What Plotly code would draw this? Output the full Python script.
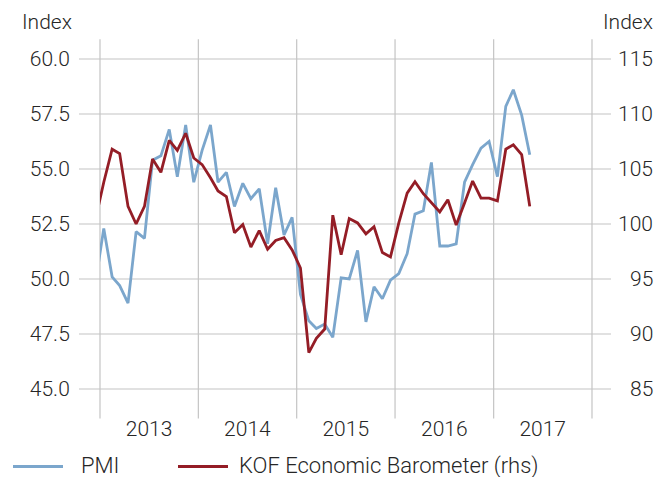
import pandas as pd
import plotly.graph_objects as go

# ---- data (monthly, Dec 2012 - May 2017; Dec 2012 is only visible as the clipped edge) ----
months = pd.date_range("2012-12-01", "2017-05-01", freq="MS") + pd.Timedelta(days=14)

pmi = [49.8,
       52.3, 50.1, 49.7, 48.9, 52.15, 51.85, 55.4, 55.6, 56.8, 54.65, 57.0, 54.4,
       55.85, 57.0, 54.4, 54.85, 53.3, 54.35, 53.65, 54.1, 51.6, 54.15, 52.0, 52.8,
       49.3, 48.1, 47.75, 47.95, 47.35, 50.05, 50.0, 51.3, 48.05, 49.65, 49.1, 49.95,
       50.25, 51.15, 52.95, 53.1, 55.3, 51.5, 51.5, 51.6, 54.4, 55.2, 55.95, 56.25,
       54.65, 57.85, 58.6, 57.45, 55.65]

kof = [100.4,
       103.8, 106.8, 106.4, 101.6, 100.0, 101.6, 105.9, 104.7, 107.6, 106.7, 108.25, 106.0,
       105.4, 104.2, 103.0, 102.5, 99.2, 99.95, 97.9, 99.4, 97.7, 98.5, 98.75, 97.65,
       96.0, 88.3, 89.6, 90.45, 100.8, 97.2, 100.5, 100.1, 99.1, 99.75, 97.4, 97.0,
       100.1, 102.8, 103.85, 102.75, 101.95, 101.1, 102.2, 99.9, 101.9, 103.9, 102.35, 102.35,
       102.1, 106.8, 107.2, 106.3, 101.6]

series_names = ["PMI", "KOF Economic Barometer (rhs)"]
year_labels = ["2013", "2014", "2015", "2016", "2017"]
year_bounds = ["2013-01-01", "2014-01-01", "2015-01-01", "2016-01-01", "2017-01-01", "2018-01-01"]
year_mids = ["2013-07-02", "2014-07-02", "2015-07-02", "2016-07-02", "2017-07-02"]
left_ticks = [45.0, 47.5, 50.0, 52.5, 55.0, 57.5, 60.0]
right_ticks = [85, 90, 95, 100, 105, 110, 115]
axis_title = "Index"

# ---- styling ----
BLUE = "#7ba6cc"
RED = "#941d26"
GRID = "#c4c4c4"
TXT = "#262626"
FONT = dict(family="Roboto, 'Liberation Sans', sans-serif", size=21, color=TXT, weight=300)
LEG_FONT = dict(FONT, size=22)

# the page body adds an 8px offset; lay the figure out in page pixels minus that offset
OFF = 8
W, H = 672 - OFF, 477 - OFF
PL, PR, PT, PB = 100, 592, 59, 389          # plot area in page pixels
ML, MT = PL - OFF, PT - OFF
MR, MB = W - (PR - OFF), H - (PB - OFF)
PW, PH = PR - PL, PB - PT

def px_x(px):
    return (px - PL) / PW

def px_y(py):
    return (PB - py) / PH

fig = go.Figure()
fig.add_trace(go.Scatter(x=months, y=pmi, mode="lines", name=series_names[0],
                         line=dict(color=BLUE, width=2.8), showlegend=False))
fig.add_trace(go.Scatter(x=months, y=kof, mode="lines", name=series_names[1], yaxis="y2",
                         line=dict(color=RED, width=2.8), showlegend=False))

shapes = []
y0, y1 = left_ticks[0], left_ticks[-1]
# horizontal gridlines (extend beyond plot area)
for v in left_ticks:
    yp = (v - y0) / (y1 - y0)
    shapes.append(dict(type="line", xref="paper", yref="paper", x0=px_x(79), x1=px_x(611),
                       y0=yp, y1=yp, line=dict(color=GRID, width=1.2), layer="below"))
# vertical year dividers (extend beyond plot area)
t0 = pd.Timestamp(year_bounds[0])
t1 = pd.Timestamp(year_bounds[-1])
for b in year_bounds:
    xp = (pd.Timestamp(b) - t0) / (t1 - t0)
    shapes.append(dict(type="line", xref="paper", yref="paper", x0=xp, x1=xp,
                       y0=px_y(418.6), y1=px_y(39.3), line=dict(color=GRID, width=1.2), layer="below"))
# legend samples
LEG_Y = 465.5
shapes.append(dict(type="line", xref="paper", yref="paper", x0=px_x(13), x1=px_x(63),
                   y0=px_y(LEG_Y + 1), y1=px_y(LEG_Y + 1), line=dict(color=BLUE, width=2.8)))
shapes.append(dict(type="line", xref="paper", yref="paper", x0=px_x(178), x1=px_x(228),
                   y0=px_y(LEG_Y + 1), y1=px_y(LEG_Y + 1), line=dict(color=RED, width=2.8)))

annotations = []
# right-hand tick labels (right aligned)
for v in right_ticks:
    annotations.append(dict(xref="paper", yref="y2", x=px_x(655), y=v, text=str(v),
                            xanchor="right", yanchor="middle", showarrow=False, font=FONT))
# axis titles
annotations.append(dict(xref="paper", yref="paper", x=px_x(74), y=px_y(22), text=axis_title,
                        xanchor="right", yanchor="middle", showarrow=False, font=FONT))
annotations.append(dict(xref="paper", yref="paper", x=px_x(655), y=px_y(22), text=axis_title,
                        xanchor="right", yanchor="middle", showarrow=False, font=FONT))
# legend texts
annotations.append(dict(xref="paper", yref="paper", x=px_x(80), y=px_y(LEG_Y), text=series_names[0],
                        xanchor="left", yanchor="middle", showarrow=False, font=LEG_FONT,
                        borderpad=0))
annotations.append(dict(xref="paper", yref="paper", x=px_x(238), y=px_y(LEG_Y), text=series_names[1],
                        xanchor="left", yanchor="middle", showarrow=False, font=LEG_FONT,
                        borderpad=0))

fig.update_layout(
    width=W, height=H,
    margin=dict(l=ML, r=MR, t=MT, b=MB),
    paper_bgcolor="white", plot_bgcolor="white",
    font=FONT,
    showlegend=False,
    xaxis=dict(type="date", range=[year_bounds[0], year_bounds[-1]],
               tickmode="array", tickvals=year_mids, ticktext=year_labels,
               ticks="outside", ticklen=21, tickcolor="rgba(0,0,0,0)",
               showgrid=False, zeroline=False, showline=False, tickfont=FONT),
    yaxis=dict(range=[y0, y1], tickmode="array", tickvals=left_ticks, tickformat=".1f",
               ticks="outside", ticklen=25, tickcolor="rgba(0,0,0,0)",
               showgrid=False, zeroline=False, showline=False, tickfont=FONT),
    yaxis2=dict(range=[right_ticks[0], right_ticks[-1]], overlaying="y", side="right",
                showgrid=False, zeroline=False, showline=False, showticklabels=False,
                tickvals=right_ticks),
    shapes=shapes,
    annotations=annotations,
)

fig.write_html("out.html")
